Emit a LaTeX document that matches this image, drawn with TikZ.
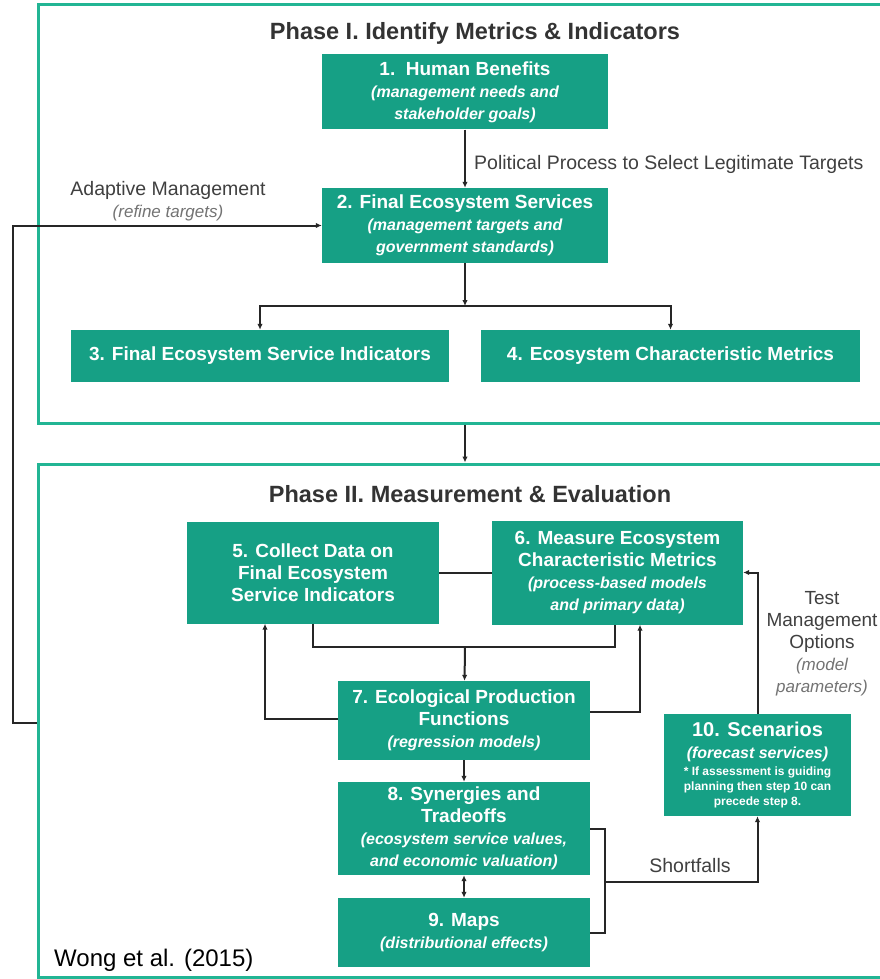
\documentclass[tikz,border=0pt]{standalone}
\usepackage{fontspec}
\setmainfont{Liberation Sans}
\usetikzlibrary{arrows.meta}
\definecolor{stepgreen}{HTML}{16A085}
\definecolor{phaseline}{HTML}{22B594}
\newcommand{\stepnote}[1]{{\fontsize{16}{22}\selectfont\itshape #1}}
\newcommand{\labelnote}[1]{{\fontsize{17}{22}\selectfont\itshape\color{black!55}#1}}

\begin{document}
\begin{tikzpicture}[x=1pt,y=-1pt,>={Latex[length=6pt,width=5.5pt]}]
    \tikzstyle{phase}=[draw=phaseline,line width=3pt,inner sep=0pt]
    \tikzstyle{title}=[text=black!80,font=\fontsize{23.5}{26}\selectfont\bfseries,inner sep=0pt]
    \tikzstyle{stepbox}=[fill=stepgreen,text=white,align=center,inner sep=0pt,font=\fontsize{19}{22}\selectfont\bfseries]
    \tikzstyle{note}=[text=black!75,align=center,inner sep=0pt,font=\fontsize{19.5}{22}\selectfont]
    \tikzstyle{line}=[draw=black!85,line width=2pt]
    \useasboundingbox (0,0) rectangle (880,979);
    \fill[white] (0,0) rectangle (880,979);
    \node[phase,minimum width=846pt,minimum height=418pt] (ph1) at (461,214) {};
    \node[phase,minimum width=846pt,minimum height=513pt] (ph2) at (461,720.5) {};
    \node[title] (t1) at (475,33) {Phase I. Identify Metrics \& Indicators};
    \node[title] (t2) at (470,494) {Phase II. Measurement \& Evaluation};
    \node[stepbox,minimum width=286pt,minimum height=75pt] (n1) at (465,92) {1.\ \ Human Benefits\\\stepnote{(management needs and}\\\stepnote{stakeholder goals)}};
    \node[stepbox,minimum width=286pt,minimum height=75pt] (n2) at (465,225.5) {2. Final Ecosystem Services\\\stepnote{(management targets and}\\\stepnote{government standards)}};
    \node[stepbox,minimum width=378pt,minimum height=52pt] (n3) at (260,356) {3. Final Ecosystem Service Indicators};
    \node[stepbox,minimum width=379pt,minimum height=52pt] (n4) at (670.5,356) {4. Ecosystem Characteristic Metrics};
    \node[stepbox,minimum width=252pt,minimum height=102pt] (n5) at (313,572.5) {5. Collect Data on\\Final Ecosystem\\Service Indicators};
    \node[stepbox,minimum width=251pt,minimum height=104pt] (n6) at (617.5,572.5) {6. Measure Ecosystem\\Characteristic Metrics\\\stepnote{(process-based models}\\\stepnote{and primary data)}};
    \node[stepbox,minimum width=252pt,minimum height=79pt] (n7) at (464,720.5) {7. Ecological Production\\Functions\\\stepnote{(regression models)}};
    \node[stepbox,minimum width=252pt,minimum height=93pt] (n8) at (464,828.5) {8. Synergies and\\Tradeoffs\\\stepnote{(ecosystem service values,}\\\stepnote{and economic valuation)}};
    \node[stepbox,minimum width=252pt,minimum height=69pt] (n9) at (464,932.5) {9. Maps\\\stepnote{(distributional effects)}};
    \node[stepbox,minimum width=187pt,minimum height=102pt,font=\fontsize{12}{15}\selectfont\bfseries] (n10) at (757.5,765) {{\fontsize{20}{22}\selectfont 10. Scenarios}\\[7pt]{\fontsize{16}{20}\selectfont\itshape (forecast services)}\\[2pt]* If assessment is guiding\\planning then step 10 can\\precede step 8.};
    \node[note,anchor=west] (pol) at (474,164) {Political Process to Select Legitimate Targets};
    \node[note] (adm) at (168,201) {Adaptive Management\\\labelnote{(refine targets)}};
    \node[note,font=\fontsize{19}{22}\selectfont] (tmo) at (822,644) {Test\\Management\\Options\\\labelnote{(model}\\\labelnote{parameters)}};
    \node[note] (sf) at (690,866) {Shortfalls};
    \node[anchor=west,inner sep=0pt,font=\fontsize{24}{26}\selectfont] (ref) at (54,960) {Wong et al. (2015)};
    \coordinate (fork) at (465,306);
    \coordinate (j57) at (465,647);
    \coordinate (am) at (13,723);
    \coordinate (sfj) at (605,882);
    \draw[line,->] (n1) -- (n2);
    \draw[line,->] (n2) -- (fork);
    \draw[line,->] (fork) -| (n3);
    \draw[line,->] (fork) -| (n4);
    \draw[line,->] (n2 |- ph1.south) -- (n2 |- ph2.north);
    \draw[line,->] (am -| ph2.west) -- (am) |- (n2.west);
    \draw[line] (n5) -- (n6);
    \draw[line] (n5.south) |- (j57) -| ([xshift=-2.5pt]n6.south);
    \draw[line,->] (j57) -- (n7);
    \draw[line,->] ([yshift=2pt]n7.west) -| ([xshift=-48pt]n5.south);
    \draw[line,->] ([yshift=9pt]n7.east) -| ([xshift=22.5pt]n6.south);
    \draw[line,->] (n10.north) |- (n6.east);
    \draw[line,->] (n7) -- (n8);
    \draw[line,<->] (n8) -- (n9);
    \draw[line] (n8.east) -| (sfj) |- (n9.east);
    \draw[line,->] (sfj) -| (n10.south);
\end{tikzpicture}
\end{document}
